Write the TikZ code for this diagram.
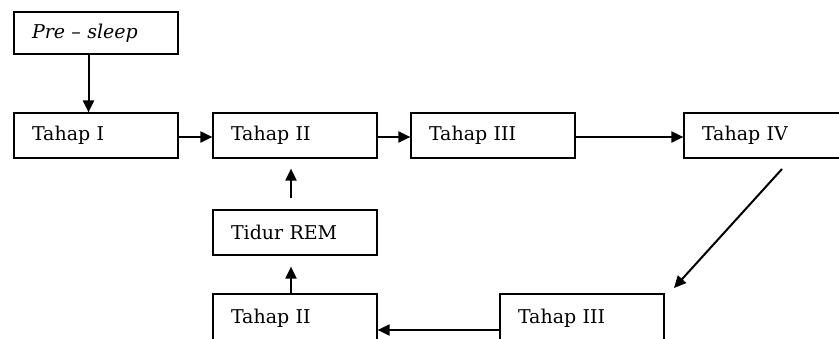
\documentclass[tikz,border=0pt]{standalone}
\usepackage{fontspec}
\setmainfont{DejaVu Serif}
\usetikzlibrary{arrows.meta}
\begin{document}
\begin{tikzpicture}[x=1pt,y=-1pt,
  box/.style={draw,line width=1.2pt,minimum width=164pt,minimum height=45pt,
    text width=128pt,inner xsep=18pt,inner ysep=0pt,align=left,
    font=\fontsize{19}{21}\selectfont},
  conn/.style={line width=2pt,-{Triangle[length=12pt,width=11pt]}}]
\useasboundingbox (0,0) rectangle (839,338);
\clip (0,0) rectangle (839,338);
\node[box,minimum height=42pt] (pre) at (96,33) {\itshape Pre -- sleep};
\node[box] (t1) at (96,135.5) {Tahap I};
\node[box] (t2) at (295,135.5) {Tahap II};
\node[box] (t3) at (493,135.5) {Tahap III};
\node[box] (t4) at (766,135.5) {Tahap IV};
\node[box] (rem) at (295,232.5) {Tidur REM};
\node[box,minimum height=48pt] (b2) at (295,318) {Tahap II};
\node[box,minimum height=48pt] (b3) at (582,318) {Tahap III};
\coordinate (d1) at (782,169);
\coordinate (d2) at (674,288);
\draw[conn] ([xshift=-7.5pt]pre.south) -- ([xshift=-7.5pt]t1.north);
\draw[conn] ([yshift=-1.5pt]t1.east) -- ([yshift=-1.5pt]t2.west);
\draw[conn] ([yshift=-1.5pt]t2.east) -- ([yshift=-1.5pt]t3.west);
\draw[conn] ([yshift=-1.5pt]t3.east) -- ([yshift=-1.5pt]t4.west);
\draw[conn] (d1) -- (d2);
\draw[conn] ([yshift=-12pt]b3.west) -- ([yshift=-12pt]b2.east);
\draw[conn,shorten >=11pt] ([xshift=-4pt]b2.north) -- ([xshift=-4pt]rem.south);
\draw[conn,shorten >=10pt,shorten <=11pt] ([xshift=-4pt]rem.north) -- ([xshift=-4pt]t2.south);
\end{tikzpicture}
\end{document}
